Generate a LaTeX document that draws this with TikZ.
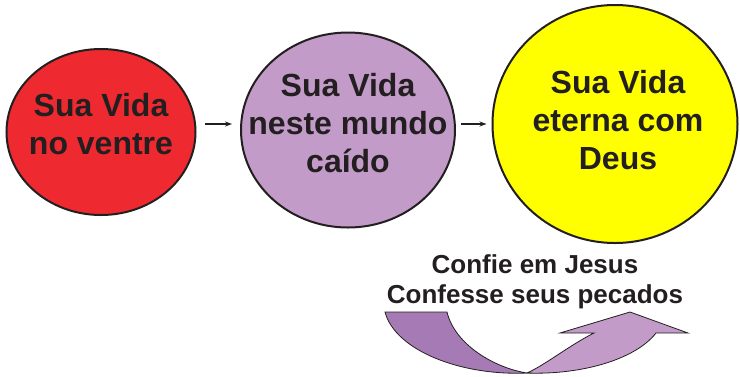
\documentclass[tikz,border=0pt]{standalone}
\usepackage{fontspec}
\setmainfont{Liberation Sans}
\usetikzlibrary{positioning, shapes.geometric, arrows.meta}

\definecolor{vermelho}{HTML}{EE2A30}
\definecolor{lilas}{HTML}{C39BC8}
\definecolor{roxo}{HTML}{A67BB5}
\definecolor{amarelo}{HTML}{FFFF00}
\definecolor{tinta}{HTML}{231F20}

\tikzset{
  vida/.style={ellipse, draw=tinta, line width=2pt},
  rotulo/.style={anchor=north, inner sep=0pt, align=center, text=tinta,
    font=\fontsize{32}{38}\selectfont\bfseries},
  seta/.style={-{Stealth[length=7pt,width=5pt]}, line width=1.2pt, draw=tinta}
}

\begin{document}
\begin{tikzpicture}[x=1pt, y=-1pt]
    \useasboundingbox (0,0) rectangle (740,376);

    % Draw the three lives
    \node[vida, fill=vermelho, minimum width=189pt, minimum height=166pt] (vientre) at (101,132) {};
    \node[vida, fill=lilas, minimum width=214pt, minimum height=195pt] (mundo) at (348,130) {};
    \node[vida, fill=amarelo, minimum width=245pt, minimum height=238pt] (eterna) at (615,124) {};

    % Labels inside
    \node[rotulo] (tvientre) at (101,92.7) {Sua Vida\\no ventre};
    \node[rotulo] (tmundo) at (348,72.7) {Sua Vida\\neste mundo\\caído};
    \node[rotulo] (teterna) at (618,70) {Sua Vida\\eterna com\\Deus};

    % Arrows between them
    \foreach \a/\b/\s in {vientre/mundo/8pt, mundo/eterna/5pt} {
      \draw[seta, shorten <=\s, shorten >=\s] (\a.east |- eterna) -- (\b.west |- eterna);
    }

    % Text above the turning arrow
    \node[rotulo, font=\fontsize{26}{30}\selectfont\bfseries] (confie) at (535,254) {Confie em Jesus\\Confesse seus pecados};

    % Turning arrow, dark half
    \filldraw[fill=roxo, draw=tinta, line width=0.8pt]
      (385,312) -- (447,312) .. controls (455,345) and (495,368) .. (527,373)
      .. controls (460,376) and (395,350) .. (385,312) -- cycle;

    % Turning arrow, light half with head
    \filldraw[fill=lilas, draw=tinta, line width=0.8pt]
      (527,373) .. controls (580,375) and (635,360) .. (656,333)
      -- (688,333) -- (630,312) -- (560,333) -- (594,333)
      .. controls (570,345) and (545,365) .. (527,373) -- cycle;
\end{tikzpicture}
\end{document}
